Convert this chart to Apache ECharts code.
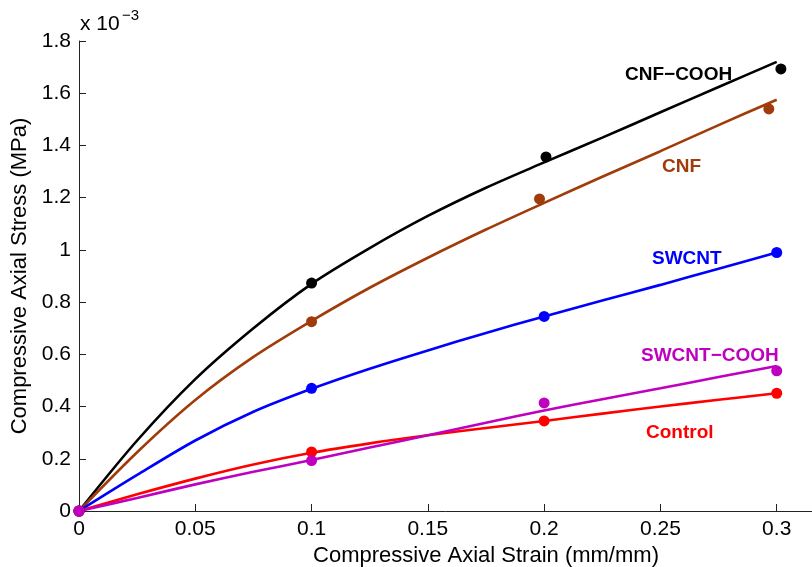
<!DOCTYPE html>
<html>
<head>
<meta charset="utf-8">
<script src="https://cdn.jsdelivr.net/npm/echarts@6/dist/echarts.min.js"></script>
<style>
  html, body { margin: 0; padding: 0; background: #fff; }
  #main { width: 812px; height: 567px; }
</style>
</head>
<body>
<div id="main"></div>
<script>
// measured points (strain mm/mm, stress MPa)
var ptStrain = {
  control: [0, 0.1, 0.2, 0.3],
  swcntCooh: [0, 0.1, 0.2, 0.3],
  swcnt: [0, 0.1, 0.2, 0.3],
  cnf: [0, 0.1, 0.198, 0.2966],
  cnfCooh: [0, 0.1, 0.2008, 0.3018]
};
var ptStress = {
  control: [0, 0.000226, 0.000345, 0.000451],
  swcntCooh: [0, 0.000193, 0.000414, 0.000537],
  swcnt: [0, 0.00047, 0.000745, 0.00099],
  cnf: [0, 0.000725, 0.001195, 0.00154],
  cnfCooh: [0, 0.000873, 0.001356, 0.001693]
};

// fitted curves
var fitStrain = [0, 0.025, 0.05, 0.075, 0.1, 0.125, 0.15, 0.175, 0.2, 0.225, 0.25, 0.275, 0.3];
var fitStress = {
  control: [0, 0.000064, 0.000124, 0.000178, 0.000223, 0.000259, 0.00029, 0.000318, 0.000345, 0.000373, 0.0004, 0.000426, 0.000451],
  swcntCooh: [0, 0.00005, 0.000102, 0.00015, 0.000195, 0.000243, 0.00029, 0.000338, 0.000385, 0.000428, 0.00047, 0.000513, 0.000555],
  swcnt: [0, 0.000138, 0.00027, 0.00038, 0.000468, 0.000545, 0.000615, 0.000682, 0.000745, 0.000806, 0.000866, 0.000928, 0.00099],
  cnf: [0, 0.000225, 0.000425, 0.00059, 0.000728, 0.000855, 0.00097, 0.001078, 0.00118, 0.00128, 0.001378, 0.001478, 0.001575],
  cnfCooh: [0, 0.00027, 0.000505, 0.0007, 0.00087, 0.001007, 0.00113, 0.001238, 0.001335, 0.00143, 0.001527, 0.001624, 0.00172]
};

var keys = ['cnfCooh', 'cnf', 'swcnt', 'control', 'swcntCooh'];
var colors = {
  control: '#ff0000',
  swcntCooh: '#bf00bf',
  swcnt: '#0000ff',
  cnf: '#a03c0a',
  cnfCooh: '#000000'
};
var names = {
  control: 'Control',
  swcntCooh: 'SWCNT\u2212COOH',
  swcnt: 'SWCNT',
  cnf: 'CNF',
  cnfCooh: 'CNF\u2212COOH'
};

function pairs(xs, ys) {
  return xs.map(function(x, i) { return [x, ys[i]]; });
}

var series = [];
keys.forEach(function(k) {
  series.push({
    type: 'line',
    name: names[k] + ' fit',
    data: pairs(fitStrain, fitStress[k]),
    smooth: 0.3,
    symbol: 'none',
    lineStyle: { color: colors[k], width: 2.6 },
    z: 2
  });
});
keys.forEach(function(k) {
  series.push({
    type: 'scatter',
    name: names[k],
    data: pairs(ptStrain[k], ptStress[k]),
    symbolSize: 11,
    itemStyle: { color: colors[k], opacity: 1 },
    z: 3
  });
});

var font = 'Liberation Sans, Arial, Helvetica, sans-serif';
var chart = echarts.init(document.getElementById('main'));
chart.setOption({
  animation: false,
  backgroundColor: '#fff',
  grid: { left: 79, top: 41, bottom: 56, right: -81, containLabel: false, outerBoundsMode: 'none' },
  xAxis: {
    type: 'value',
    min: 0,
    max: 0.35,
    interval: 0.05,
    name: 'Compressive Axial Strain (mm/mm)',
    nameLocation: 'middle',
    nameGap: 27,
    nameTextStyle: { fontFamily: font, fontSize: 22, color: '#000' },
    axisLine: { lineStyle: { color: '#222', width: 1 } },
    axisTick: { inside: true, length: 7, lineStyle: { color: '#222' } },
    axisLabel: {
      fontFamily: font, fontSize: 21, color: '#000', margin: 8,
      formatter: function(v) { return String(+v.toFixed(2)); }
    },
    splitLine: { show: false }
  },
  yAxis: {
    type: 'value',
    min: 0,
    max: 0.0018,
    interval: 0.0002,
    name: 'Compressive Axial Stress (MPa)',
    nameLocation: 'middle',
    nameGap: 37,
    nameTextStyle: { fontFamily: font, fontSize: 22, color: '#000' },
    axisLine: { show: true, lineStyle: { color: '#222', width: 1 } },
    axisTick: { show: true, inside: true, length: 7, lineStyle: { color: '#222' } },
    axisLabel: {
      fontFamily: font, fontSize: 21, color: '#000', margin: 8,
      formatter: function(v) { return String(+(v * 1000).toFixed(1)); }
    },
    splitLine: { show: false }
  },
  graphic: [
    { type: 'text', left: 80, top: 14, style: { text: 'x 10', font: '21px ' + font, fill: '#000' } },
    { type: 'text', left: 122, top: 8, style: { text: '\u22123', font: '15px ' + font, fill: '#000' } },
    { type: 'text', left: 625, top: 65, style: { text: names.cnfCooh, font: 'bold 19px ' + font, fill: colors.cnfCooh } },
    { type: 'text', left: 662, top: 157, style: { text: names.cnf, font: 'bold 19px ' + font, fill: colors.cnf } },
    { type: 'text', left: 652, top: 249, style: { text: names.swcnt, font: 'bold 19px ' + font, fill: colors.swcnt } },
    { type: 'text', left: 641, top: 346, style: { text: names.swcntCooh, font: 'bold 19px ' + font, fill: colors.swcntCooh } },
    { type: 'text', left: 646, top: 423, style: { text: names.control, font: 'bold 19px ' + font, fill: colors.control } }
  ],
  series: series
});
</script>
</body>
</html>
